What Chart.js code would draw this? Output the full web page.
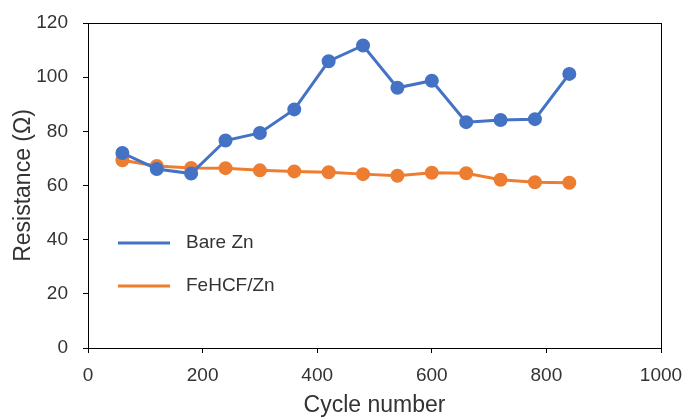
<!DOCTYPE html>
<html>
<head>
<meta charset="utf-8">
<script src="https://cdn.jsdelivr.net/npm/chart.js@4"></script>
<style>
  html, body { margin: 0; padding: 0; background: #fff; }
  #wrap { width: 688px; height: 417px; }
</style>
</head>
<body>
<div id="wrap"><canvas id="chart" width="688" height="417"></canvas></div>
<script>
// Data
const cycles = [60, 120, 180, 240, 300, 360, 420, 480, 540, 600, 660, 720, 780, 840];
const bareZn = [72.0, 66.1, 64.4, 76.6, 79.4, 88.1, 105.9, 111.7, 96.1, 98.7, 83.4, 84.2, 84.5, 101.2];
const fehcfZn = [69.3, 67.2, 66.5, 66.4, 65.6, 65.2, 64.9, 64.2, 63.6, 64.7, 64.5, 62.1, 61.2, 61.0];
const seriesNames = ['Bare Zn', 'FeHCF/Zn'];
const seriesColors = ['#4472C4', '#ED7D31'];

const font = "'Liberation Sans', Arial, sans-serif";
const textColor = '#333';

function toPoints(ys) {
  return cycles.map((x, i) => ({ x: x, y: ys[i] }));
}

// box around the plot area
const frame = {
  id: 'frame',
  afterDraw(chart) {
    const a = chart.chartArea;
    const ctx = chart.ctx;
    ctx.save();
    ctx.strokeStyle = '#000';
    ctx.lineWidth = 1;
    ctx.strokeRect(a.left + 0.5, a.top + 0.5, a.right - a.left, a.bottom - a.top);
    ctx.restore();
  }
};

// legend drawn inside plot, lines only
const innerLegend = {
  id: 'innerLegend',
  afterDraw(chart) {
    const ctx = chart.ctx;
    ctx.save();
    ctx.font = '19px ' + font;
    ctx.textBaseline = 'middle';
    chart.data.datasets.forEach((ds, i) => {
      const y = 243 + i * 43;
      ctx.strokeStyle = ds.borderColor;
      ctx.lineWidth = 3;
      ctx.beginPath();
      ctx.moveTo(118, y);
      ctx.lineTo(170, y);
      ctx.stroke();
      ctx.fillStyle = textColor;
      ctx.fillText(ds.label, 186, y);
    });
    ctx.restore();
  }
};

const ctx = document.getElementById('chart').getContext('2d');
new Chart(ctx, {
  type: 'line',
  data: {
    datasets: [
      {
        label: seriesNames[0],
        data: toPoints(bareZn),
        borderColor: seriesColors[0],
        backgroundColor: seriesColors[0],
        borderWidth: 3,
        pointRadius: 5.5,
        pointHoverRadius: 5.5,
        tension: 0
      },
      {
        label: seriesNames[1],
        data: toPoints(fehcfZn),
        borderColor: seriesColors[1],
        backgroundColor: seriesColors[1],
        borderWidth: 3,
        pointRadius: 5.5,
        pointHoverRadius: 5.5,
        tension: 0
      }
    ]
  },
  options: {
    responsive: false,
    animation: false,
    layout: { padding: { left: 0, right: 27, top: 23, bottom: 0 } },
    plugins: {
      legend: { display: false },
      tooltip: { enabled: false }
    },
    scales: {
      x: {
        type: 'linear',
        min: 0,
        max: 1000,
        ticks: {
          stepSize: 200, color: textColor, font: { family: font, size: 19 }, padding: 11,
          callback: v => String(v)
        },
        grid: { drawOnChartArea: false, drawTicks: true, tickLength: 5, color: '#000' },
        border: { display: true, color: '#000' },
        title: { display: true, text: 'Cycle number', color: textColor, font: { family: font, size: 23 }, padding: { top: 0, bottom: -2 } },
        afterFit(scale) {
          scale.height = 69;
          scale.paddingLeft = 0;
          scale.paddingRight = 0;
        }
      },
      y: {
        min: 0,
        max: 120,
        ticks: { stepSize: 20, color: textColor, font: { family: font, size: 19 }, padding: 15 },
        grid: { drawOnChartArea: false, drawTicks: true, tickLength: 5, color: '#000' },
        border: { display: true, color: '#000' },
        title: { display: true, text: 'Resistance (Ω)', color: textColor, font: { family: font, size: 23 }, padding: { top: 10, bottom: 0 } },
        afterFit(scale) {
          scale.width = 88;
          scale.paddingTop = 0;
          scale.paddingBottom = 0;
        }
      }
    }
  },
  plugins: [frame, innerLegend]
});
</script>
</body>
</html>
